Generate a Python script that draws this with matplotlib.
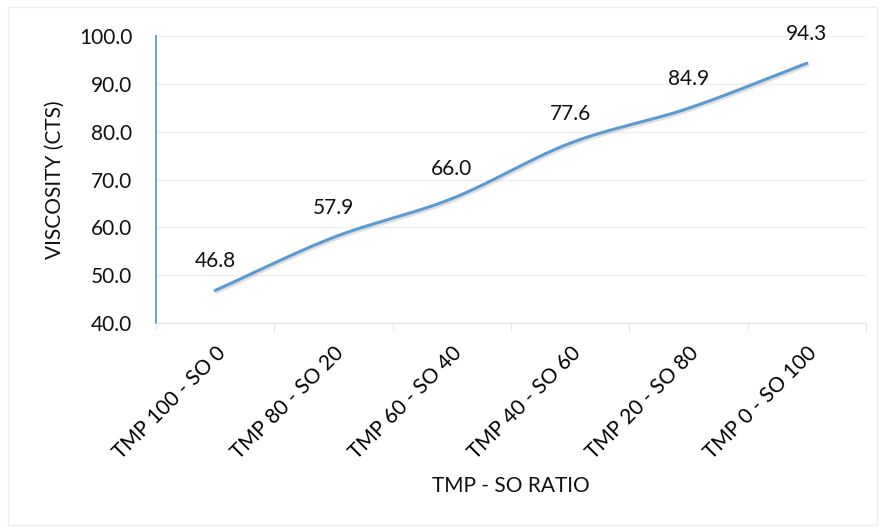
import numpy as np
import matplotlib.pyplot as plt
import matplotlib.patheffects as pe
from matplotlib.patches import Rectangle

plt.rcParams['font.family'] = ['Lato', 'DejaVu Sans']

categories = ['TMP 100 - SO 0', 'TMP 80 - SO 20', 'TMP 60 - SO 40',
              'TMP 40 - SO 60', 'TMP 20 - SO 80', 'TMP 0 - SO 100']
viscosity = [46.8, 57.9, 66.0, 77.6, 84.9, 94.3]

blue = '#5B9BD5'
fs = 15


def smooth(x, y, n=40):
    # catmull-rom through the points, like a spreadsheet "smoothed line"
    x = np.asarray(x, float)
    y = np.asarray(y, float)
    px = np.concatenate([[2 * x[0] - x[1]], x, [2 * x[-1] - x[-2]]])
    py = np.concatenate([[2 * y[0] - y[1]], y, [2 * y[-1] - y[-2]]])
    xs, ys = [], []
    t = np.linspace(0, 1, n)
    for i in range(1, len(px) - 2):
        for p, out in ((px, xs), (py, ys)):
            p0, p1, p2, p3 = p[i - 1], p[i], p[i + 1], p[i + 2]
            out.append(0.5 * (2 * p1 + (-p0 + p2) * t
                              + (2 * p0 - 5 * p1 + 4 * p2 - p3) * t ** 2
                              + (-p0 + 3 * p1 - 3 * p2 + p3) * t ** 3))
    return np.concatenate(xs), np.concatenate(ys)


fig = plt.figure(figsize=(8.82, 5.31), dpi=100)
ax = fig.add_axes([0.1769, 0.3917, 0.805, 0.5405])

x = np.arange(len(categories))
sx, sy = smooth(x, viscosity)
ax.plot(sx, sy, color=blue, lw=2.2, solid_capstyle='round', zorder=3,
        path_effects=[pe.SimpleLineShadow(offset=(1.0, -1.5), shadow_color='#999999', alpha=0.3),
                      pe.Normal()])

for xi, v in zip(x, viscosity):
    ax.annotate('%.1f' % v, (xi, v), xytext=(0, 17), textcoords='offset points',
                ha='center', va='baseline', fontsize=fs, color='#111111')

ax.set_xlim(-0.5, len(categories) - 0.5)
ax.set_ylim(40, 100)
ax.set_yticks(np.arange(40, 101, 10))
ax.set_yticklabels(['%.1f' % v for v in np.arange(40, 101, 10)])
ax.yaxis.grid(True, color='#EFEFEF', lw=1)
ax.set_axisbelow(True)

ax.set_xticks(x)
ax.set_xticklabels(categories, rotation=45, ha='right', va='top',
                   rotation_mode='anchor', fontsize=fs)
ax.set_xticks(np.arange(-0.5, len(categories), 1), minor=True)
ax.tick_params(axis='x', which='major', length=0, pad=14)
ax.tick_params(axis='x', which='minor', length=5, color='#E0E0E0')
ax.tick_params(axis='y', length=0, pad=17, labelsize=fs, labelcolor='#111111')

for s in ['top', 'right']:
    ax.spines[s].set_visible(False)
ax.spines['left'].set_color(blue)
ax.spines['left'].set_linewidth(1.3)
ax.spines['bottom'].set_color('#E3E3E3')

ax.set_xlabel('TMP - SO RATIO', fontsize=fs, labelpad=10, color='#111111')
ax.set_ylabel('VISCOSITY (CTS)', fontsize=fs, labelpad=10, color='#111111')

fig.patches.append(Rectangle((0.009, 0.012), 0.985, 0.975, transform=fig.transFigure,
                             fill=False, edgecolor='#EEEEEE', lw=1))

plt.savefig('out.png', dpi=100)
